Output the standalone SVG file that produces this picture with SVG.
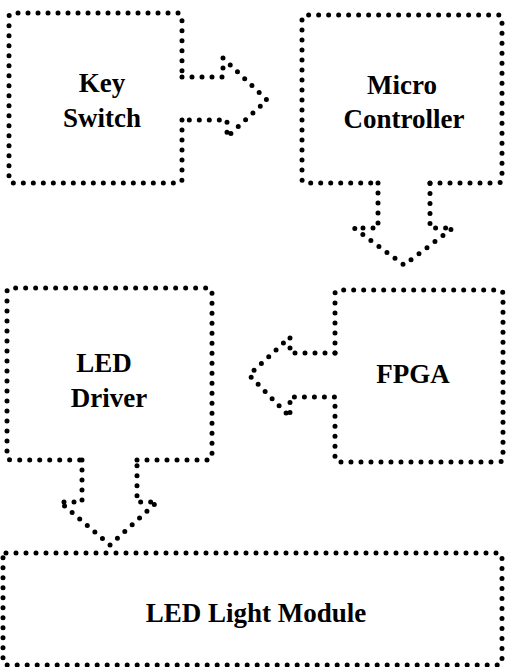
<svg xmlns="http://www.w3.org/2000/svg" width="507" height="667" viewBox="0 0 507 667">
<style>
.d{fill:none;stroke:#000;stroke-width:5;stroke-linecap:round;stroke-linejoin:round;stroke-dasharray:0 10}
.t{font-family:"Liberation Serif","Times New Roman",serif;font-weight:bold;font-size:27px;fill:#000;text-anchor:middle}
</style>
<rect width="507" height="667" fill="#fff"/>
<g id="key-switch">
<path class="d" d="M182,120 V179 Q182,183 178,183 H13 Q9,183 9,179 V17 Q9,13 13,13 H178 Q182,13 182,17 V77"/>
<text class="t" x="102" y="92">Key</text>
<text class="t" x="102" y="127">Switch</text>
</g>
<g id="micro-controller">
<path class="d" d="M430,183 H498 Q502,183 502,179 V19 Q502,15 498,15 H306 Q302,15 302,19 V179 Q302,183 306,183 H378"/>
<text class="t" x="402" y="94">Micro</text>
<text class="t" x="404" y="128">Controller</text>
</g>
<g id="fpga">
<path class="d" d="M335,353 V294 Q335,290 339,290 H499 Q503,290 503,294 V458 Q503,462 499,462 H339 Q335,462 335,458 V397"/>
<text class="t" x="413" y="383">FPGA</text>
</g>
<g id="led-driver">
<path class="d" d="M137,460 H208 Q212,460 212,456 V292 Q212,288 208,288 H11 Q7,288 7,292 V456 Q7,460 11,460 H82"/>
<text class="t" x="104" y="372">LED</text>
<text class="t" x="109" y="407">Driver</text>
</g>
<g id="led-light-module">
<rect class="d" x="3" y="553" width="499" height="112" rx="3"/>
<text class="t" x="256" y="622">LED Light Module</text>
</g>
<g id="connectors">
<path class="d" d="M182,77 H223 V58 L267,100 L227,137 V120 H182"/>
<path class="d" d="M378,183 V228 H354 L404,265 L453,228 H430 V183"/>
<path class="d" d="M335,353 H290 V337 L249,375 L290,417 V397 H335"/>
<path class="d" d="M82,460 V502 H60 L110,545 L157,502 H137 V460"/>
</g>
</svg>
